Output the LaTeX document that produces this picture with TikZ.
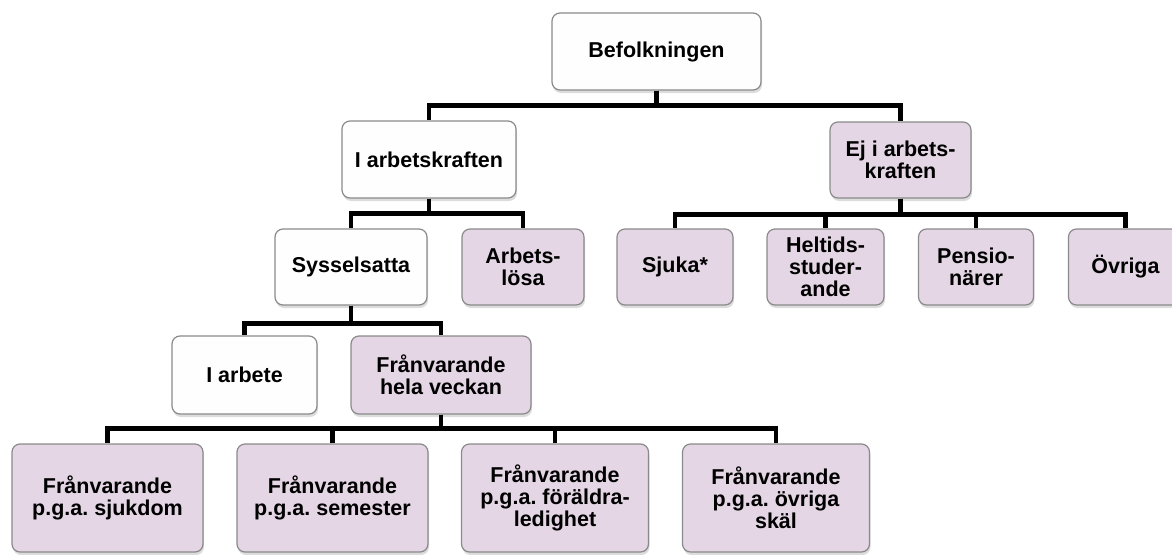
\documentclass[tikz,border=0pt]{standalone}
\usepackage{fontspec}
\setmainfont{Liberation Sans}
\usetikzlibrary{shadows}
\frenchspacing
\definecolor{boxgray}{RGB}{138,138,138}
\definecolor{lilac}{RGB}{228,214,228}
\definecolor{offwhite}{RGB}{254,254,254}
\tikzset{
  box/.style={draw=boxgray, line width=1.2pt, rounded corners=8pt, inner sep=0pt,
    font=\bfseries\fontsize{21.5}{22}\selectfont, align=center,
    drop shadow={opacity=0.28, shadow xshift=1pt, shadow yshift=-3pt}},
  wbox/.style={box, fill=offwhite},
  pbox/.style={box, fill=lilac},
  conn/.style={line width=4.5pt, black, line join=miter}
}
\begin{document}
\begin{tikzpicture}[x=1pt,y=-1pt]
\useasboundingbox (0,0) rectangle (1172,554);
% nodes
\node[wbox, minimum width=209pt, minimum height=77pt] (bef) at (656.5,51.5) {Befolkningen};
\node[wbox, minimum width=174pt, minimum height=77pt] (iak) at (429,159.5) {I arbetskraften};
\node[pbox, minimum width=141pt, minimum height=76pt] (ej) at (900.5,160) {Ej i arbets-\\kraften};
\node[wbox, minimum width=152pt, minimum height=76pt] (sys) at (351,267) {Sysselsatta};
\node[pbox, minimum width=122pt, minimum height=76pt] (arb) at (523,267) {Arbets-\\lösa};
\node[pbox, minimum width=116pt, minimum height=76pt] (sjuka) at (675,267) {Sjuka*};
\node[pbox, minimum width=117pt, minimum height=76pt] (helt) at (825.5,267) {Heltids-\\studer-\\ande};
\node[pbox, minimum width=115pt, minimum height=76pt] (pens) at (976,267) {Pensio-\\närer};
\node[pbox, minimum width=114pt, minimum height=76pt] (ovr) at (1125.5,267) {Övriga};
\node[wbox, minimum width=145pt, minimum height=78pt] (iarb) at (244.5,375) {I arbete};
\node[pbox, minimum width=180pt, minimum height=78pt] (fhv) at (441,375) {Frånvarande\\hela veckan};
\node[pbox, minimum width=191pt, minimum height=108pt] (b1) at (107.5,498) {Frånvarande\\p.g.a. sjukdom};
\node[pbox, minimum width=191pt, minimum height=108pt] (b2) at (332.5,498) {Frånvarande\\p.g.a. semester};
\node[pbox, minimum width=187pt, minimum height=108pt] (b3) at (555,498) {Frånvarande\\p.g.a. föräldra-\\ledighet};
\node[pbox, minimum width=187pt, minimum height=108pt] (b4) at (776,498) {Frånvarande\\p.g.a. övriga\\skäl};
% connectors
\draw[conn] (bef.south) -- ++(0,15) -| (iak.north);
\draw[conn] (bef.south) -- ++(0,15) -| (ej.north);
\draw[conn] (iak.south) -- ++(0,15) -| (sys.north);
\draw[conn] (iak.south) -- ++(0,15) -| (arb.north);
\draw[conn] (ej.south) -- ++(0,16) -| (sjuka.north);
\draw[conn] (ej.south) -- ++(0,16) -| (helt.north);
\draw[conn] (ej.south) -- ++(0,16) -| (pens.north);
\draw[conn] (ej.south) -- ++(0,16) -| (ovr.north);
\draw[conn] (sys.south) -- ++(0,18) -| (iarb.north);
\draw[conn] (sys.south) -- ++(0,18) -| (fhv.north);
\draw[conn] (fhv.south) -- ++(0,14) -| (b1.north);
\draw[conn] (fhv.south) -- ++(0,14) -| (b2.north);
\draw[conn] (fhv.south) -- ++(0,14) -| (b3.north);
\draw[conn] (fhv.south) -- ++(0,14) -| (b4.north);
\end{tikzpicture}
\end{document}
